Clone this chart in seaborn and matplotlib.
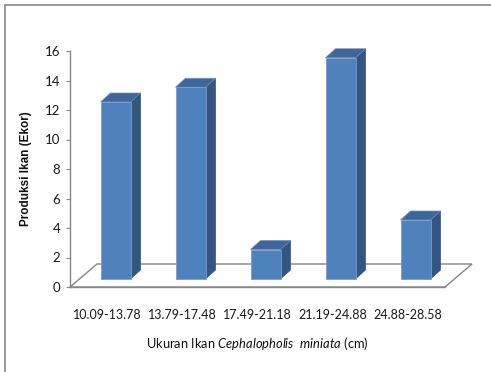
import matplotlib
matplotlib.use("Agg")
import matplotlib.pyplot as plt
import seaborn as sns
import pandas as pd
from matplotlib.patches import Polygon
from matplotlib.lines import Line2D
from matplotlib.transforms import offset_copy

# data
kelas_ukuran = ["10.09-13.78", "13.79-17.48", "17.49-21.18", "21.19-24.88", "24.88-28.58"]
jumlah_ikan = [12, 13, 2, 15, 4]
y_ticks = [0, 2, 4, 6, 8, 10, 12, 14, 16]

df = pd.DataFrame({"ukuran": kelas_ukuran, "jumlah": jumlah_ikan})

sns.set_theme(style="white")
plt.rcParams["font.family"] = ["Lato", "DejaVu Sans"]
plt.rcParams["mathtext.fontset"] = "custom"
plt.rcParams["mathtext.rm"] = "Lato"
plt.rcParams["mathtext.it"] = "Lato:italic"

W, H = 491, 372
fig = plt.figure(figsize=(W / 100, H / 100), dpi=100)
ax_l, ax_b, ax_w, ax_h = 70, 287, 375, 236  # pixels
ax = fig.add_axes([ax_l / W, 1 - ax_b / H, ax_w / W, ax_h / H])

front = "#4F81BD"
side = "#33557F"
top = "#3E6699"
grey = "#868686"

sns.barplot(data=df, x="ukuran", y="jumlah", color=front, width=0.4,
            saturation=1, ax=ax, zorder=3)
ax.set_xlim(-0.5, 4.5)
ax.set_ylim(0, 16)
ax.set_yticks(y_ticks)

# pixel -> data conversion for the fake 3D depth
px_x = 5.0 / ax_w
px_y = 16.0 / ax_h
shift_x, shift_y = 8, 8      # bars sit in the middle of the floor
depth_x, depth_y = 10, 9     # bar depth
floor_x, floor_y = 27, 23    # floor depth

# floor
x0, x1 = ax.get_xlim()
floor = Polygon([(x0, 0), (x1, 0), (x1 + floor_x * px_x, floor_y * px_y),
                 (x0 + floor_x * px_x, floor_y * px_y)], closed=True,
                facecolor="white", edgecolor=grey, lw=1.0, clip_on=False, zorder=1)
ax.add_patch(floor)

shift = offset_copy(ax.transData, fig=fig, x=shift_x, y=shift_y, units="dots")
dx, dy = depth_x * px_x, depth_y * px_y
for p in list(ax.patches):
    if p is floor:
        continue
    p.set_transform(shift)
    p.set_edgecolor("#7A9CCB")
    p.set_linewidth(0.6)
    p.set_clip_on(False)
    bx, bw, bh = p.get_x(), p.get_width(), p.get_height()
    side_face = Polygon([(bx + bw, 0), (bx + bw + dx, dy), (bx + bw + dx, bh + dy), (bx + bw, bh)],
                        closed=True, facecolor=side, edgecolor=side, lw=0.5,
                        transform=shift, clip_on=False, zorder=2)
    top_face = Polygon([(bx, bh), (bx + dx, bh + dy), (bx + bw + dx, bh + dy), (bx + bw, bh)],
                       closed=True, facecolor=top, edgecolor="#6F8FBF", lw=0.5,
                       transform=shift, clip_on=False, zorder=2)
    ax.add_patch(side_face)
    ax.add_patch(top_face)

for s in ["top", "right"]:
    ax.spines[s].set_visible(False)
for s in ["left", "bottom"]:
    ax.spines[s].set_color(grey)
    ax.spines[s].set_linewidth(1.0)

ax.tick_params(axis="y", left=True, length=3, width=0.8, color=grey, pad=4,
               labelsize=9.5, labelcolor="#1a1a1a")
ax.tick_params(axis="x", bottom=False, pad=10, labelsize=9, labelcolor="#1a1a1a")

ax.set_xlabel(r"Ukuran Ikan $\mathit{Cephalopholis\ \ miniata}$ (cm)",
              fontsize=9.3, color="#111111", labelpad=10)
ax.set_ylabel("Produksi Ikan (Ekor)", fontsize=8.5, fontweight="bold",
              family=["Liberation Sans", "DejaVu Sans"], color="#111111", labelpad=9)
ax.grid(False)

# outer chart frame (left and top edges visible)
fig.add_artist(Line2D([5 / W, 5 / W], [0, 1 - 5 / H], transform=fig.transFigure,
                      color="#888888", lw=1.2))
fig.add_artist(Line2D([5 / W, 1], [1 - 5 / H, 1 - 5 / H], transform=fig.transFigure,
                      color="#888888", lw=1.2))

fig.savefig("out.png", dpi=100)
